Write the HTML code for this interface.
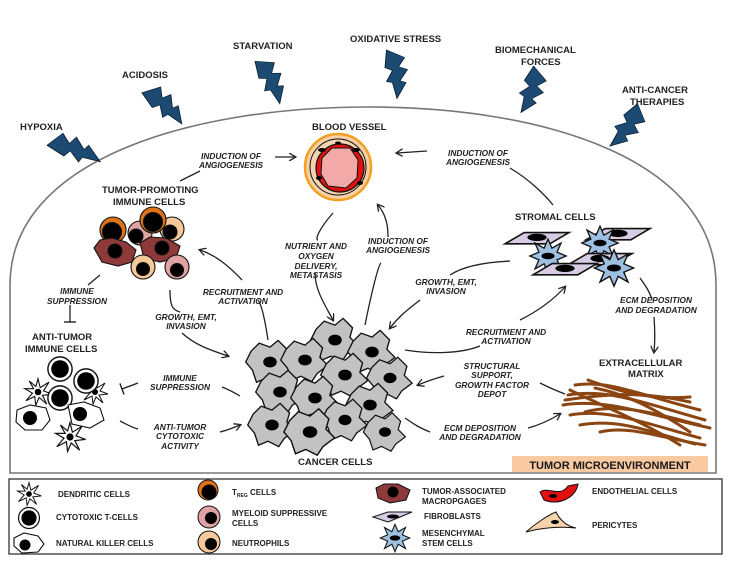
<!DOCTYPE html>
<html><head><meta charset="utf-8"><style>
html,body{margin:0;padding:0;background:#fff;}
svg{display:block;}
text{font-family:"Liberation Sans",Arial,sans-serif;font-weight:bold;fill:#222;}
.l{font-size:9.5px;}
.i{font-size:8.3px;font-style:italic;}
.g{font-size:8px;}
</style></head><body>
<svg width="732" height="578" viewBox="0 0 732 578" xmlns="http://www.w3.org/2000/svg">
<defs>
<polygon id="bolt" points="-7,0 5,8 1,18 7,21 2,33 6,35 0,52 -3,35 -7,34 -3,22 -8,19" fill="#1d4a72" stroke="#0b1f33" stroke-width="0.6"/>
<marker id="ah" markerWidth="8" markerHeight="8" refX="6" refY="4" orient="auto" markerUnits="userSpaceOnUse"><path d="M0,0 L7,4 L0,8" fill="none" stroke="#222" stroke-width="1.3"/></marker>
<marker id="tb" markerWidth="2" markerHeight="12" refX="1" refY="6" orient="auto" markerUnits="userSpaceOnUse"><path d="M1,0 L1,12" stroke="#222" stroke-width="1.4"/></marker>
<g id="cc"><path d="M-14,-8 L-8,-14 L0,-11 L6,-16 L13,-9 L11,-2 L17,4 L9,10 L5,16 L-3,12 L-10,15 L-13,6 L-18,0 Z" fill="#c2c2c2" stroke="#111" stroke-width="1"/><ellipse cx="0" cy="0" rx="5" ry="4" fill="#000"/></g>
<g id="star"><path d="M0,-13 L3,-6 L10,-10 L7,-3 L14,0 L7,3 L10,10 L3,6 L0,13 L-3,6 L-10,10 L-7,3 L-14,0 L-7,-3 L-10,-10 L-3,-6 Z" fill="#9dbfe0" stroke="#111" stroke-width="1"/><ellipse rx="5" ry="2.5" fill="#000"/></g>
<g id="fib"><path d="M-20,0 L-8,-7 L20,-7 L8,0 Z" transform="translate(0,3)" fill="#d7cce3" stroke="#111" stroke-width="1"/><ellipse cx="0" cy="-1" rx="6" ry="2.3" fill="#000"/></g>
<g id="wc"><circle r="11" fill="#fff" stroke="#111" stroke-width="1.3"/><circle r="8" fill="#000"/></g>
<g id="star2"><path d="M0,-12 L2,-4 L10,-9 L5,-1 L13,2 L4,3 L8,11 L1,5 L-2,12 L-3,4 L-11,8 L-5,1 L-12,-3 L-4,-3 L-8,-10 L-2,-5 Z" fill="#fff" stroke="#111" stroke-width="1"/><circle r="3" fill="#000"/></g>
</defs>

<path d="M10,473 L10,285 C10,160 190,107 368,107 C546,107 716,160 716,285 L716,473 Z" fill="#fff" stroke="#777" stroke-width="1.6"/>
<rect x="512" y="456" width="196" height="16" fill="#f9c9a2"/>
<text x="610" y="469" text-anchor="middle" style="font-size:11px;fill:#1a1a1a">TUMOR MICROENVIRONMENT</text>

<text class="l" x="20" y="130">HYPOXIA</text>
<use href="#bolt" transform="translate(52,136) rotate(-62) scale(1.5,1.05)"/>
<text class="l" x="122" y="78">ACIDOSIS</text>
<use href="#bolt" transform="translate(150,86) rotate(-40) scale(1.5,0.95)"/>
<text class="l" x="233" y="49">STARVATION</text>
<use href="#bolt" transform="translate(265,58) rotate(-18) scale(1.5,0.92)"/>
<text class="l" x="350" y="42">OXIDATIVE STRESS</text>
<use href="#bolt" transform="translate(397,50) rotate(0) scale(1.5,0.93)"/>
<text class="l" x="495" y="53">BIOMECHANICAL</text>
<text class="l" x="521" y="65">FORCES</text>
<use href="#bolt" transform="translate(543,71) rotate(28) scale(1.5,0.9)"/>
<text class="l" x="622" y="93">ANTI-CANCER</text>
<text class="l" x="630" y="105">THERAPIES</text>
<use href="#bolt" transform="translate(645,111) rotate(45) scale(1.5,0.95)"/>

<text class="l" x="312" y="130">BLOOD VESSEL</text>
<circle cx="338" cy="167" r="33" fill="#f6d0a8" stroke="#f2a020" stroke-width="2.5"/>
<circle cx="338" cy="167" r="28" fill="#f3d4b0" stroke="#111" stroke-width="1"/>
<circle cx="340" cy="168" r="24" fill="#e31010" stroke="#111" stroke-width="1.2"/>
<path d="M322,158 L332,148 L350,148 L358,160 L357,178 L346,188 L328,186 L321,174 Z" fill="#f4a9a9" stroke="#111" stroke-width="1"/>
<g fill="#000"><ellipse cx="322" cy="150" rx="4" ry="2"/><ellipse cx="356" cy="150" rx="4" ry="2"/><ellipse cx="319" cy="178" rx="3" ry="2"/><ellipse cx="360" cy="183" rx="3" ry="2"/><ellipse cx="338" cy="143" rx="3" ry="1.5"/></g>

<text class="l" x="102" y="193">TUMOR-PROMOTING</text>
<text class="l" x="113" y="205">IMMUNE CELLS</text>
<g stroke="#111" stroke-width="1.1">
<circle cx="140" cy="233" r="12" fill="#e0a3a3"/><circle cx="136" cy="236" r="7" fill="#000"/>
<circle cx="172" cy="229" r="12" fill="#f7c89a"/><circle cx="170" cy="232" r="7" fill="#000"/>
<circle cx="113" cy="230" r="13" fill="#e0731a"/><circle cx="112" cy="232" r="9.5" fill="#000"/>
<circle cx="153" cy="220" r="13" fill="#e0731a"/><circle cx="153" cy="222" r="9.5" fill="#000"/>
<path d="M94,248 L100,240 L112,238 L126,242 L136,250 L132,262 L118,266 L102,262 Z" fill="#8e3a3a"/><circle cx="115" cy="251" r="7" fill="#000"/>
<path d="M140,243 L150,237 L166,238 L180,246 L176,258 L160,262 L144,258 Z" fill="#8e3a3a"/><circle cx="162" cy="248" r="7" fill="#000"/>
<circle cx="143" cy="267" r="12" fill="#f7c89a"/><circle cx="143" cy="269" r="6.5" fill="#000"/>
<circle cx="177" cy="267" r="12" fill="#e0a3a3"/><circle cx="177" cy="270" r="6.5" fill="#000"/>
</g>

<text class="l" x="32" y="340">ANTI-TUMOR</text>
<text class="l" x="25" y="352">IMMUNE CELLS</text>
<use href="#star2" transform="translate(38,392) scale(1.1)"/>
<use href="#star2" transform="translate(95,392)"/>
<use href="#star2" transform="translate(70,437) scale(1.2)"/>
<use href="#wc" transform="translate(60,369) scale(1.1)"/>
<use href="#wc" transform="translate(86,381) scale(1.1)"/>
<use href="#wc" transform="translate(60,398) scale(1.1)"/>
<path d="M17,410 L30,405 L46,408 L50,420 L42,430 L25,430 L16,422 Z" fill="#fff" stroke="#111" stroke-width="1.1"/><circle cx="30" cy="418" r="7" fill="#000"/>
<path d="M68,405 L84,402 L100,408 L104,420 L90,428 L72,424 Z" fill="#fff" stroke="#111" stroke-width="1.1"/><circle cx="80" cy="414" r="7" fill="#000"/>

<!-- cancer cells -->
<use href="#cc" transform="translate(335,340) scale(1.35)"/>
<use href="#cc" transform="translate(372,352) scale(1.35)"/>
<use href="#cc" transform="translate(270,362) scale(1.35)"/>
<use href="#cc" transform="translate(305,360) scale(1.35)"/>
<use href="#cc" transform="translate(390,378) scale(1.3)"/>
<use href="#cc" transform="translate(345,375) scale(1.35)"/>
<use href="#cc" transform="translate(280,392) scale(1.35)"/>
<use href="#cc" transform="translate(315,398) scale(1.35)"/>
<use href="#cc" transform="translate(370,405) scale(1.35)"/>
<use href="#cc" transform="translate(272,425) scale(1.35)"/>
<use href="#cc" transform="translate(345,420) scale(1.3)"/>
<use href="#cc" transform="translate(310,432) scale(1.45)"/>
<use href="#cc" transform="translate(385,432) scale(1.2)"/>
<text class="l" x="298" y="465">CANCER CELLS</text>

<!-- stromal cells -->
<text class="l" x="515" y="220">STROMAL CELLS</text>
<use href="#fib" transform="translate(537,239) scale(1.6)"/>
<use href="#fib" transform="translate(618,235) scale(1.6)"/>
<use href="#star" transform="translate(548,256) scale(1.3)"/>
<use href="#star" transform="translate(600,243) scale(1.3)"/>
<use href="#fib" transform="translate(600,260) scale(1.6)"/>
<use href="#fib" transform="translate(565,270) scale(1.6)"/>
<use href="#star" transform="translate(614,268) scale(1.4)"/>

<text class="l" x="599" y="366">EXTRACELLULAR</text>
<text class="l" x="628" y="377">MATRIX</text>
<g fill="none" stroke="#8b4513" stroke-width="3" stroke-linecap="round">
<path d="M575,385 C610,380 640,395 700,410"/>
<path d="M568,395 C610,388 650,405 705,420"/>
<path d="M563,405 C605,398 650,415 710,428"/>
<path d="M570,415 C610,408 650,425 700,438"/>
<path d="M580,425 C620,418 650,432 695,444"/>
<path d="M588,380 C620,392 650,400 690,397"/>
<path d="M570,390 C600,405 640,420 680,445"/>
<path d="M600,432 C630,425 660,438 705,445"/>
<path d="M565,400 C600,395 640,390 690,402"/>
<path d="M585,412 C620,402 660,415 700,425"/>
<path d="M595,388 C630,395 660,412 690,432"/>
</g>

<g fill="none" stroke="#222" stroke-width="1.3">
<path d="M180,181 L200,171" />
<path d="M275,157 L295,157" marker-end="url(#ah)"/>
<path d="M427,151 L397,153" marker-end="url(#ah)"/>
<path d="M510,168 C530,180 545,195 553,205"/>
<path d="M333,213 C318,230 315,240 318,240"/>
<path d="M315,273 C315,290 325,305 333,320" marker-end="url(#ah)"/>
<path d="M365,325 C370,300 378,265 381,263"/>
<path d="M388,237 C388,225 386,215 378,205" marker-end="url(#ah)"/>
<path d="M100,275 L88,285"/>
<path d="M70,305 L70,322" marker-end="url(#tb)"/>
<path d="M170,290 C170,305 172,310 180,312"/>
<path d="M182,333 C195,345 210,350 228,356" marker-end="url(#ah)"/>
<path d="M268,340 C265,320 262,305 258,300"/>
<path d="M242,280 C228,265 215,255 200,250" marker-end="url(#ah)"/>
<path d="M138,383 L122,389" marker-end="url(#tb)"/>
<path d="M222,387 C230,390 235,393 240,396"/>
<path d="M120,421 C128,425 133,428 138,429"/>
<path d="M220,432 C228,430 233,428 240,425" marker-end="url(#ah)"/>
<path d="M510,261 C490,262 465,265 450,275"/>
<path d="M420,300 C410,308 400,315 390,328" marker-end="url(#ah)"/>
<path d="M405,350 C430,354 460,354 480,346"/>
<path d="M520,320 C540,310 555,298 565,287" marker-end="url(#ah)"/>
<path d="M640,278 C645,285 650,292 652,300"/>
<path d="M654,317 C655,330 655,342 654,352" marker-end="url(#ah)"/>
<path d="M444,376 C430,380 425,382 418,385" marker-end="url(#ah)"/>
<path d="M540,383 C550,388 557,391 565,394"/>
<path d="M405,418 C415,425 420,428 430,432"/>
<path d="M528,428 C540,425 550,420 560,414" marker-end="url(#ah)"/>
</g>

<g text-anchor="middle">
<text class="i" x="231" y="159">INDUCTION OF</text>
<text class="i" x="231" y="168">ANGIOGENESIS</text>
<text class="i" x="478" y="156">INDUCTION OF</text>
<text class="i" x="478" y="165">ANGIOGENESIS</text>
<text class="i" x="316" y="249">NUTRIENT AND</text>
<text class="i" x="316" y="259">OXYGEN</text>
<text class="i" x="316" y="269">DELIVERY,</text>
<text class="i" x="316" y="278">METASTASIS</text>
<text class="i" x="398" y="244">INDUCTION OF</text>
<text class="i" x="398" y="253">ANGIOGENESIS</text>
<text class="i" x="77" y="294">IMMUNE</text>
<text class="i" x="77" y="304">SUPPRESSION</text>
<text class="i" x="243" y="295">RECRUITMENT AND</text>
<text class="i" x="243" y="304">ACTIVATION</text>
<text class="i" x="186" y="320">GROWTH, EMT,</text>
<text class="i" x="186" y="329">INVASION</text>
<text class="i" x="180" y="381">IMMUNE</text>
<text class="i" x="180" y="390">SUPPRESSION</text>
<text class="i" x="180" y="430">ANTI-TUMOR</text>
<text class="i" x="180" y="439">CYTOTOXIC</text>
<text class="i" x="180" y="449">ACTIVITY</text>
<text class="i" x="446" y="285">GROWTH, EMT,</text>
<text class="i" x="446" y="294">INVASION</text>
<text class="i" x="506" y="335">RECRUITMENT AND</text>
<text class="i" x="506" y="344">ACTIVATION</text>
<text class="i" x="656" y="303">ECM DEPOSITION</text>
<text class="i" x="656" y="313">AND DEGRADATION</text>
<text class="i" x="492" y="369">STRUCTURAL</text>
<text class="i" x="492" y="378">SUPPORT,</text>
<text class="i" x="492" y="388">GROWTH FACTOR</text>
<text class="i" x="492" y="397">DEPOT</text>
<text class="i" x="480" y="431">ECM DEPOSITION</text>
<text class="i" x="480" y="440">AND DEGRADATION</text>
</g>

<rect x="9" y="479" width="713" height="75" fill="#fff" stroke="#333" stroke-width="1.3"/>
<use href="#star2" transform="translate(29,494) scale(0.95)"/>
<text class="g" x="58" y="497">DENDRITIC CELLS</text>
<use href="#wc" transform="translate(29,518) scale(0.95)"/>
<text class="g" x="56" y="520">CYTOTOXIC  T-CELLS</text>
<path d="M14,538 L24,533 L38,536 L44,544 L38,552 L22,553 L14,546 Z" fill="#fff" stroke="#111" stroke-width="1.1"/><circle cx="25" cy="545" r="5.5" fill="#000"/>
<text class="g" x="56" y="546">NATURAL  KILLER CELLS</text>
<circle cx="208" cy="490" r="10" fill="#e0731a" stroke="#111"/><circle cx="209" cy="492" r="7.5" fill="#000"/>
<text class="g" x="232" y="495">T<tspan style="font-size:5px" dy="2">REG</tspan><tspan dy="-2"> CELLS</tspan></text>
<circle cx="209" cy="517" r="11" fill="#e0a3a3" stroke="#111"/><circle cx="211" cy="518" r="6" fill="#000"/>
<text class="g" x="232" y="516">MYELOID SUPPRESSIVE</text>
<text class="g" x="232" y="526">CELLS</text>
<circle cx="209" cy="542" r="11" fill="#f7c89a" stroke="#111"/><circle cx="211" cy="544" r="6" fill="#000"/>
<text class="g" x="232" y="546">NEUTROPHILS</text>
<path d="M376,488 L384,484 L398,484 L410,490 L406,500 L390,503 L378,498 Z" fill="#8e3a3a" stroke="#111"/><circle cx="393" cy="492" r="5.5" fill="#000"/>
<text class="g" x="422" y="494">TUMOR-ASSOCIATED</text>
<text class="g" x="422" y="504">MACROPGAGES</text>
<path d="M373,517 L388,512 L412,512 L400,517 L388,522 Z" fill="#d7cce3" stroke="#111"/><ellipse cx="393" cy="516.5" rx="6" ry="2" fill="#000"/>
<text class="g" x="424" y="519">FIBROBLASTS</text>
<use href="#star" transform="translate(395,538) scale(1.05)"/>
<text class="g" x="422" y="536">MESENCHYMAL</text>
<text class="g" x="422" y="546">STEM CELLS</text>
<path d="M540,492 C548,486 560,498 568,486 L578,484 C576,498 558,506 544,500 Z" fill="#e31010" stroke="#111"/><ellipse cx="553" cy="496" rx="4" ry="2" fill="#000"/>
<text class="g" x="592" y="494">ENDOTHELIAL CELLS</text>
<path d="M526,532 C535,524 548,515 556,512 C560,520 566,526 576,528 C560,526 540,528 526,532 Z" fill="#f6d2ad" stroke="#111"/><ellipse cx="555" cy="522" rx="4" ry="2" fill="#000"/>
<text class="g" x="592" y="528">PERICYTES</text>
</svg>
</body></html>
